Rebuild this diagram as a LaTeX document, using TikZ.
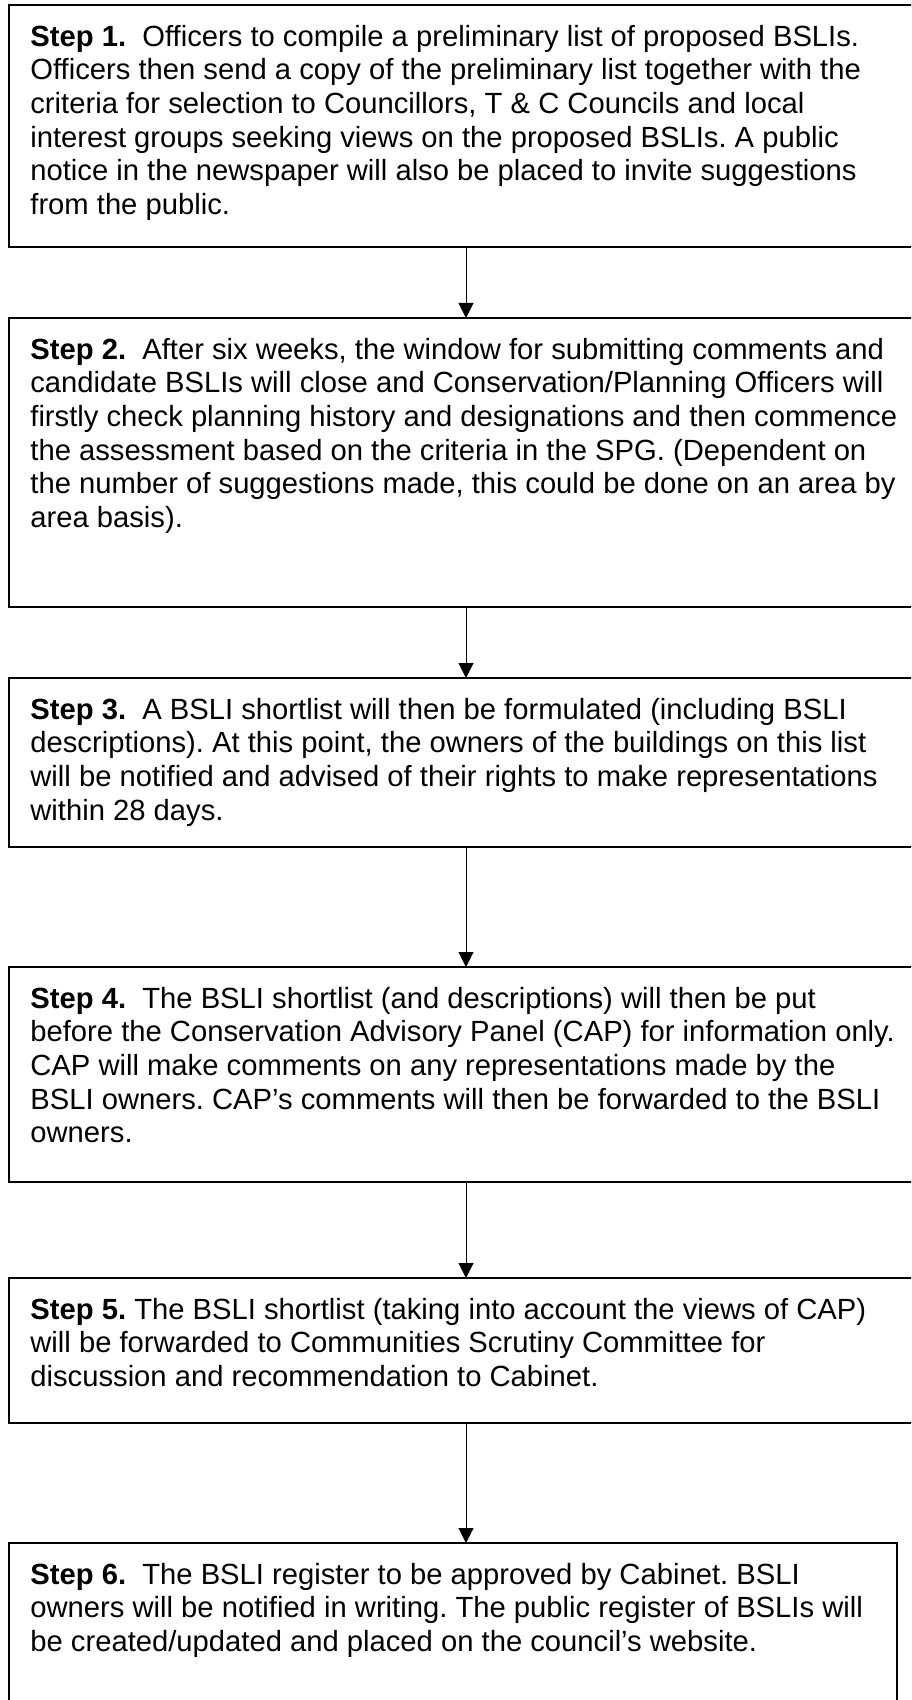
\documentclass[tikz,border=0pt]{standalone}
\usepackage{fontspec}
\setmainfont{Liberation Sans}
\usetikzlibrary{arrows.meta}

\begin{document}
\begin{tikzpicture}[x=1pt,y=1pt,
    stepbox/.style={draw, line width=1pt, anchor=north west, inner sep=0pt,
      outer sep=0pt, minimum width=457pt},
    steptext/.style={anchor=north west, align=left, inner sep=0pt,
      font=\fontsize{14.6pt}{16.8pt}\selectfont\frenchspacing},
    flow/.style={-{Triangle[length=7.5pt,width=7.5pt]}, line width=0.5pt}]
  \clip (0,0) rectangle (455.5,-850);
  \useasboundingbox (0,0) rectangle (455.5,-850);

  %% the six boxes (the two last ones run off the page)
  \node[stepbox, minimum height=121pt] (s1) at (4.5,-2.5) {};
  \node[stepbox, minimum height=144.5pt] (s2) at (4.5,-159) {};
  \node[stepbox, minimum height=84.5pt] (s3) at (4.5,-339) {};
  \node[stepbox, minimum height=107.5pt] (s4) at (4.5,-483.5) {};
  \node[stepbox, minimum height=72.5pt] (s5) at (4.5,-639) {};
  \node[stepbox, minimum height=90pt, minimum width=444pt] (s6) at (4.5,-771.5) {};

  %% texts
  \node[steptext] (t1) at ([shift={(10.5,-8.7)}]s1.north west)
  {\strut\textbf{Step 1.}\ \ Officers to compile a preliminary list of proposed BSLIs.\\
    Officers then send a copy of the preliminary list together with the\\
    criteria for selection to Councillors, T \& C Councils and local\\
    interest groups seeking views on the proposed BSLIs. A public\\
    notice in the newspaper will also be placed to invite suggestions\\
    from the public.};
  \node[steptext] (t2) at ([shift={(10.5,-8.7)}]s2.north west)
  {\strut\textbf{Step 2.}\ \ After six weeks, the window for submitting comments and\\
    candidate BSLIs will close and Conservation/Planning Officers will\\
    firstly check planning history and designations and then commence\\
    the assessment based on the criteria in the SPG. (Dependent on\\
    the number of suggestions made, this could be done on an area by\\
    area basis).};
  \node[steptext] (t3) at ([shift={(10.5,-8.7)}]s3.north west)
  {\strut\textbf{Step 3.}\ \ A BSLI shortlist will then be formulated (including BSLI\\
    descriptions). At this point, the owners of the buildings on this list\\
    will be notified and advised of their rights to make representations\\
    within 28 days.};
  \node[steptext] (t4) at ([shift={(10.5,-8.7)}]s4.north west)
  {\strut\textbf{Step 4.}\ \ The BSLI shortlist (and descriptions) will then be put\\
    before the Conservation Advisory Panel (CAP) for information only.\\
    CAP will make comments on any representations made by the\\
    BSLI owners. CAP’s comments will then be forwarded to the BSLI\\
    owners.};
  \node[steptext] (t5) at ([shift={(10.5,-8.7)}]s5.north west)
  {\strut\textbf{Step 5.} The BSLI shortlist (taking into account the views of CAP)\\
    will be forwarded to Communities Scrutiny Committee for\\
    discussion and recommendation to Cabinet.};
  \node[steptext] (t6) at ([shift={(10.5,-8.7)}]s6.north west)
  {\strut\textbf{Step 6.}\ \ The BSLI register to be approved by Cabinet. BSLI\\
    owners will be notified in writing. The public register of BSLIs will\\
    be created/updated and placed on the council’s website.};

  %% arrows
  \foreach \a/\b in {s1/s2, s2/s3, s3/s4, s4/s5, s5/s6}
  \draw[flow] (\a.south) -- (\a.south |- \b.north);
\end{tikzpicture}
\end{document}
